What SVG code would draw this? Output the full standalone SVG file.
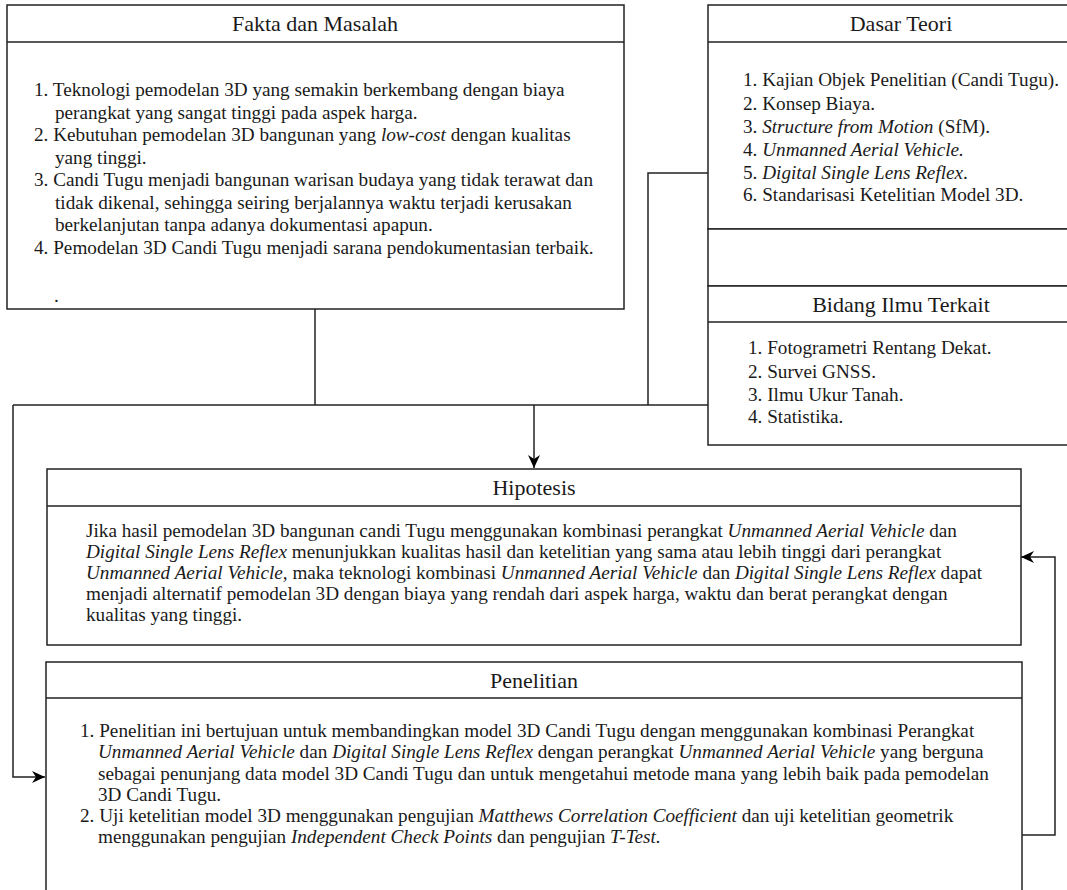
<svg xmlns="http://www.w3.org/2000/svg" width="1067" height="890" viewBox="0 0 1067 890">
<defs>
<style>
.box{fill:#fff;stroke:#222;stroke-width:1.5}
.ln{fill:none;stroke:#222;stroke-width:1.5}
.t{font-size:19.2px;fill:#1a1a1a}
.h{font-size:22px;fill:#1a1a1a;text-anchor:middle}
.i{font-style:italic}
</style>
<marker id="arr" viewBox="0 0 14 12" refX="13" refY="6" markerWidth="14" markerHeight="12" markerUnits="userSpaceOnUse" orient="auto">
<path d="M0,0 L13,6 L0,12 L4,6 Z" fill="#000"/>
</marker>
</defs>
<rect width="1067" height="890" fill="#fff"/>

<g id="connectors">
<path class="ln" d="M315,309 V405"/>
<path class="ln" d="M13,405 H708"/>
<path class="ln" d="M708,173 H648 V405"/>
<path class="ln" d="M534,405 V468" marker-end="url(#arr)"/>
<path class="ln" d="M13,405 V777 H45" marker-end="url(#arr)"/>
<path class="ln" d="M1022,835 H1055 V557 H1021" marker-end="url(#arr)"/>
</g>

<g font-family="Liberation Serif, Tinos, Times New Roman, DejaVu Serif, serif">
<g id="fakta">
<rect class="box" x="7" y="5" width="617" height="304"/>
<line class="ln" x1="7" y1="42" x2="624" y2="42"/>
<text class="h" x="315" y="31">Fakta dan Masalah</text>
<text class="t" x="34" y="96">1. Teknologi pemodelan 3D yang semakin berkembang dengan biaya</text>
<text class="t" x="55" y="118.5">perangkat yang sangat tinggi pada aspek harga.</text>
<text class="t" x="34" y="141">2. Kebutuhan pemodelan 3D bangunan yang <tspan class="i">low-cost</tspan> dengan kualitas</text>
<text class="t" x="55" y="163.5">yang tinggi.</text>
<text class="t" x="34" y="186">3. Candi Tugu menjadi bangunan warisan budaya yang tidak terawat dan</text>
<text class="t" x="55" y="208.5">tidak dikenal, sehingga seiring berjalannya waktu terjadi kerusakan</text>
<text class="t" x="55" y="231">berkelanjutan tanpa adanya dokumentasi apapun.</text>
<text class="t" x="34" y="253.5">4. Pemodelan 3D Candi Tugu menjadi sarana pendokumentasian terbaik.</text>
<text class="t" x="54" y="302">.</text>
</g>

<g id="dasar-teori">
<rect class="box" x="708" y="5" width="386" height="224"/>
<line class="ln" x1="708" y1="42" x2="1094" y2="42"/>
<text class="h" x="901" y="31">Dasar Teori</text>
<text class="t" x="743" y="86">1. Kajian Objek Penelitian (Candi Tugu).</text>
<text class="t" x="743" y="110">2. Konsep Biaya.</text>
<text class="t" x="743" y="133">3. <tspan class="i">Structure from Motion</tspan> (SfM).</text>
<text class="t" x="743" y="156">4. <tspan class="i">Unmanned Aerial Vehicle.</tspan></text>
<text class="t" x="743" y="179">5. <tspan class="i">Digital Single Lens Reflex</tspan>.</text>
<text class="t" x="743" y="201">6. Standarisasi Ketelitian Model 3D.</text>
</g>

<g id="empty-box">
<rect class="box" x="708" y="229" width="386" height="57"/>
</g>

<g id="bidang-ilmu">
<rect class="box" x="708" y="286" width="386" height="159"/>
<line class="ln" x1="708" y1="322" x2="1094" y2="322"/>
<text class="h" x="901" y="312">Bidang Ilmu Terkait</text>
<text class="t" x="748" y="354">1. Fotogrametri Rentang Dekat.</text>
<text class="t" x="748" y="378">2. Survei GNSS.</text>
<text class="t" x="748" y="401">3. Ilmu Ukur Tanah.</text>
<text class="t" x="748" y="423">4. Statistika.</text>
</g>

<g id="hipotesis">
<rect class="box" x="47" y="469" width="974" height="176"/>
<line class="ln" x1="47" y1="506" x2="1021" y2="506"/>
<text class="h" x="534" y="495">Hipotesis</text>
<text class="t" x="86" y="537">Jika hasil pemodelan 3D bangunan candi Tugu menggunakan kombinasi perangkat <tspan class="i">Unmanned Aerial Vehicle</tspan> dan</text>
<text class="t" x="86" y="558"><tspan class="i">Digital Single Lens Reflex</tspan> menunjukkan kualitas hasil dan ketelitian yang sama atau lebih tinggi dari perangkat</text>
<text class="t" x="86" y="579"><tspan class="i">Unmanned Aerial Vehicle,</tspan> maka teknologi kombinasi <tspan class="i">Unmanned Aerial Vehicle</tspan> dan <tspan class="i">Digital Single Lens Reflex</tspan> dapat</text>
<text class="t" x="86" y="600">menjadi alternatif pemodelan 3D dengan biaya yang rendah dari aspek harga, waktu dan berat perangkat dengan</text>
<text class="t" x="86" y="621">kualitas yang tinggi.</text>
</g>

<g id="penelitian">
<rect class="box" x="46" y="662" width="976" height="240"/>
<line class="ln" x1="46" y1="698" x2="1022" y2="698"/>
<text class="h" x="534" y="688">Penelitian</text>
<text class="t" x="80" y="737">1. Penelitian ini bertujuan untuk membandingkan model 3D Candi Tugu dengan menggunakan kombinasi Perangkat</text>
<text class="t" x="98" y="758"><tspan class="i">Unmanned Aerial Vehicle</tspan> dan <tspan class="i">Digital Single Lens Reflex</tspan> dengan perangkat <tspan class="i">Unmanned Aerial Vehicle</tspan> yang berguna</text>
<text class="t" x="98" y="780">sebagai penunjang data model 3D Candi Tugu dan untuk mengetahui metode mana yang lebih baik pada pemodelan</text>
<text class="t" x="98" y="801">3D Candi Tugu.</text>
<text class="t" x="80" y="822">2. Uji ketelitian model 3D menggunakan pengujian <tspan class="i">Matthews Correlation Coefficient</tspan> dan uji ketelitian geometrik</text>
<text class="t" x="98" y="843">menggunakan pengujian <tspan class="i">Independent Check Points</tspan> dan pengujian <tspan class="i">T-Test.</tspan></text>
</g>
</g>
</svg>
